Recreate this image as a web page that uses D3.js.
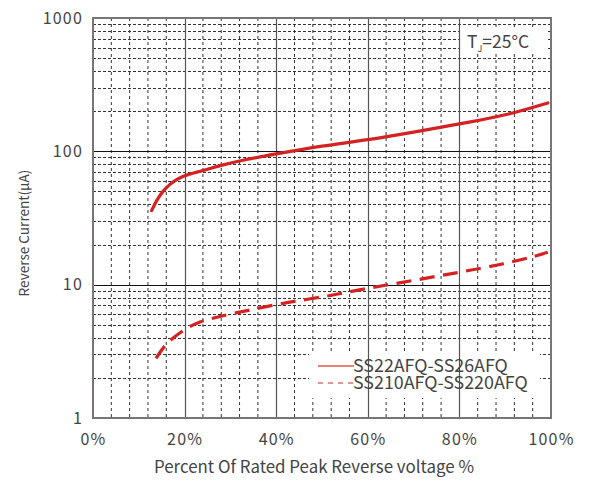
<!DOCTYPE html>
<html><head><meta charset="utf-8">
<script src="https://cdn.jsdelivr.net/npm/d3@7"></script>
<style>body{margin:0;background:#fff}svg{display:block}text{font-family:"Noto Sans CJK SC","Noto Sans",sans-serif;fill:#444}</style>
</head><body>
<svg id="c" width="599" height="480"></svg>
<script>
// Data
const seriesNames = ["SS22AFQ-SS26AFQ", "SS210AFQ-SS220AFQ"];
const solidPct = [12.8, 14, 15.35, 16.8, 18.1, 20, 24, 28, 32, 40, 50, 60, 70, 80, 90, 99.3];
const solidCur = [35.9, 43.3, 50.3, 56.5, 60.9, 65.5, 71.8, 78.5, 84.7, 95.6, 109.4, 122.3, 139.4, 160.6, 188, 230.7];
const dashPct = [13.76, 15.57, 17.25, 20.09, 23.36, 27.73, 34.28, 42.36, 51.75, 60, 69.87, 79.91, 88.86, 95.4, 99.3];
const dashCur = [2.80, 3.43, 3.91, 4.61, 5.25, 5.77, 6.46, 7.33, 8.29, 9.39, 10.75, 12.38, 14.17, 15.99, 17.49];
const xTicks = [0, 20, 40, 60, 80, 100];
const yTicks = [1, 10, 100, 1000];
const xTitle = "Percent Of Rated Peak Reverse voltage %";
const yTitle = "Reverse Current(μA)";

const svg = d3.select("#c");
const L = 93, R = 551, T = 18, B = 418;
const x = d3.scaleLinear().domain([0, 100]).range([L, R]);
const y = d3.scaleLog().domain([1, 1000]).range([B, T]);

function fit(sel, base, target) {
  sel.attr("font-size", base);
  const w = sel.node().getComputedTextLength();
  if (w > 0) sel.attr("font-size", base * target / w);
  return sel;
}

const g = svg.append("g");
// minor vertical grid
const xMinor = d3.range(4, 100, 4).filter(v => v % 20 !== 0);
g.selectAll(".vm").data(xMinor).join("line")
  .attr("x1", d => x(d)).attr("x2", d => x(d)).attr("y1", T).attr("y2", B)
  .attr("stroke", "#333").attr("stroke-width", 1).attr("stroke-dasharray", "3,3");
// minor horizontal grid
const yMinor = [];
[1, 10, 100].forEach(dec => { for (let k = 2; k <= 9; k++) yMinor.push(dec * k); });
g.selectAll(".hm").data(yMinor).join("line")
  .attr("x1", L).attr("x2", R).attr("y1", d => Math.round(y(d)) + 0.5).attr("y2", d => Math.round(y(d)) + 0.5)
  .attr("stroke", "#333").attr("stroke-width", 1).attr("stroke-dasharray", "3,2");

// white boxes (legend and annotation)
g.append("rect").attr("x", 309).attr("y", 352).attr("width", 231).attr("height", 46).attr("fill", "#fff");
g.append("rect").attr("x", 460).attr("y", 27).attr("width", 87).attr("height", 26).attr("fill", "#fff");

// major grid
g.selectAll(".vM").data([20, 40, 60, 80]).join("line")
  .attr("x1", d => Math.round(x(d)) + 0.5).attr("x2", d => Math.round(x(d)) + 0.5).attr("y1", T).attr("y2", B)
  .attr("stroke", "#555").attr("stroke-width", 1.2);
g.selectAll(".hM").data([10, 100]).join("line")
  .attr("x1", L).attr("x2", R).attr("y1", d => Math.round(y(d)) + 0.5).attr("y2", d => Math.round(y(d)) + 0.5)
  .attr("stroke", "#111").attr("stroke-width", 1.2);

// frame
g.append("rect").attr("x", L).attr("y", T).attr("width", R - L).attr("height", B - T)
  .attr("fill", "none").attr("stroke", "#7a7574").attr("stroke-width", 2);

// axes (labels only)
const xa = svg.append("g").attr("transform", `translate(0,${B})`)
  .call(d3.axisBottom(x).tickValues(xTicks).tickFormat(d => d + "%").tickSize(0).tickPadding(16));
const ya = svg.append("g").attr("transform", `translate(${L},0)`)
  .call(d3.axisLeft(y).tickValues(yTicks).tickFormat(d3.format("d")).tickSize(0).tickPadding(10));
[xa, ya].forEach(a => {
  a.select(".domain").remove();
  a.selectAll("text").attr("font-size", 16).attr("letter-spacing", 1.2).style("fill", "#444")
    .attr("font-family", '"Noto Sans CJK SC","Noto Sans",sans-serif');
});

// curves
const line = d3.line().x(d => x(d[0])).y(d => y(d[1])).curve(d3.curveCatmullRom.alpha(0.5));
const solidData = solidPct.map((p, i) => [p, solidCur[i]]);
const dashData = dashPct.map((p, i) => [p, dashCur[i]]);
svg.append("path").datum(solidData).attr("d", line).attr("fill", "none")
  .attr("stroke", "#d42222").attr("stroke-width", 3.2).attr("stroke-linecap", "round");
svg.append("path").datum(dashData).attr("d", line).attr("fill", "none")
  .attr("stroke", "#d42222").attr("stroke-width", 3.2).attr("stroke-dasharray", "15,8.5");

// legend
const lg = svg.append("g");
lg.append("line").attr("x1", 318).attr("x2", 354).attr("y1", 366).attr("y2", 366)
  .attr("stroke", "#e05555").attr("stroke-width", 1.5);
lg.append("line").attr("x1", 318).attr("x2", 354).attr("y1", 383).attr("y2", 383)
  .attr("stroke", "#e07070").attr("stroke-width", 1.5).attr("stroke-dasharray", "5,5");
const lt = lg.selectAll("text").data(seriesNames).join("text")
  .attr("x", 353).attr("y", (d, i) => 372 + i * 17).text(d => d);
const lt0 = d3.select(lt.nodes()[0]);
fit(lt0, 16, 155);
lt.attr("font-size", lt0.attr("font-size"));

// annotation
const ann = svg.append("text").attr("x", 467).attr("y", 48).attr("font-size", 17.5);
ann.append("tspan").text("T");
ann.append("tspan").attr("font-size", 9).attr("dy", 4).text("J");
ann.append("tspan").attr("dy", -4).text("=25°C");

// titles
fit(svg.append("text").attr("x", 314).attr("y", 473).attr("text-anchor", "middle").text(xTitle), 16, 320);
fit(svg.append("text").attr("transform", "translate(29,233) rotate(-90)").attr("text-anchor", "middle").text(yTitle), 15, 127);
</script>
</body></html>
